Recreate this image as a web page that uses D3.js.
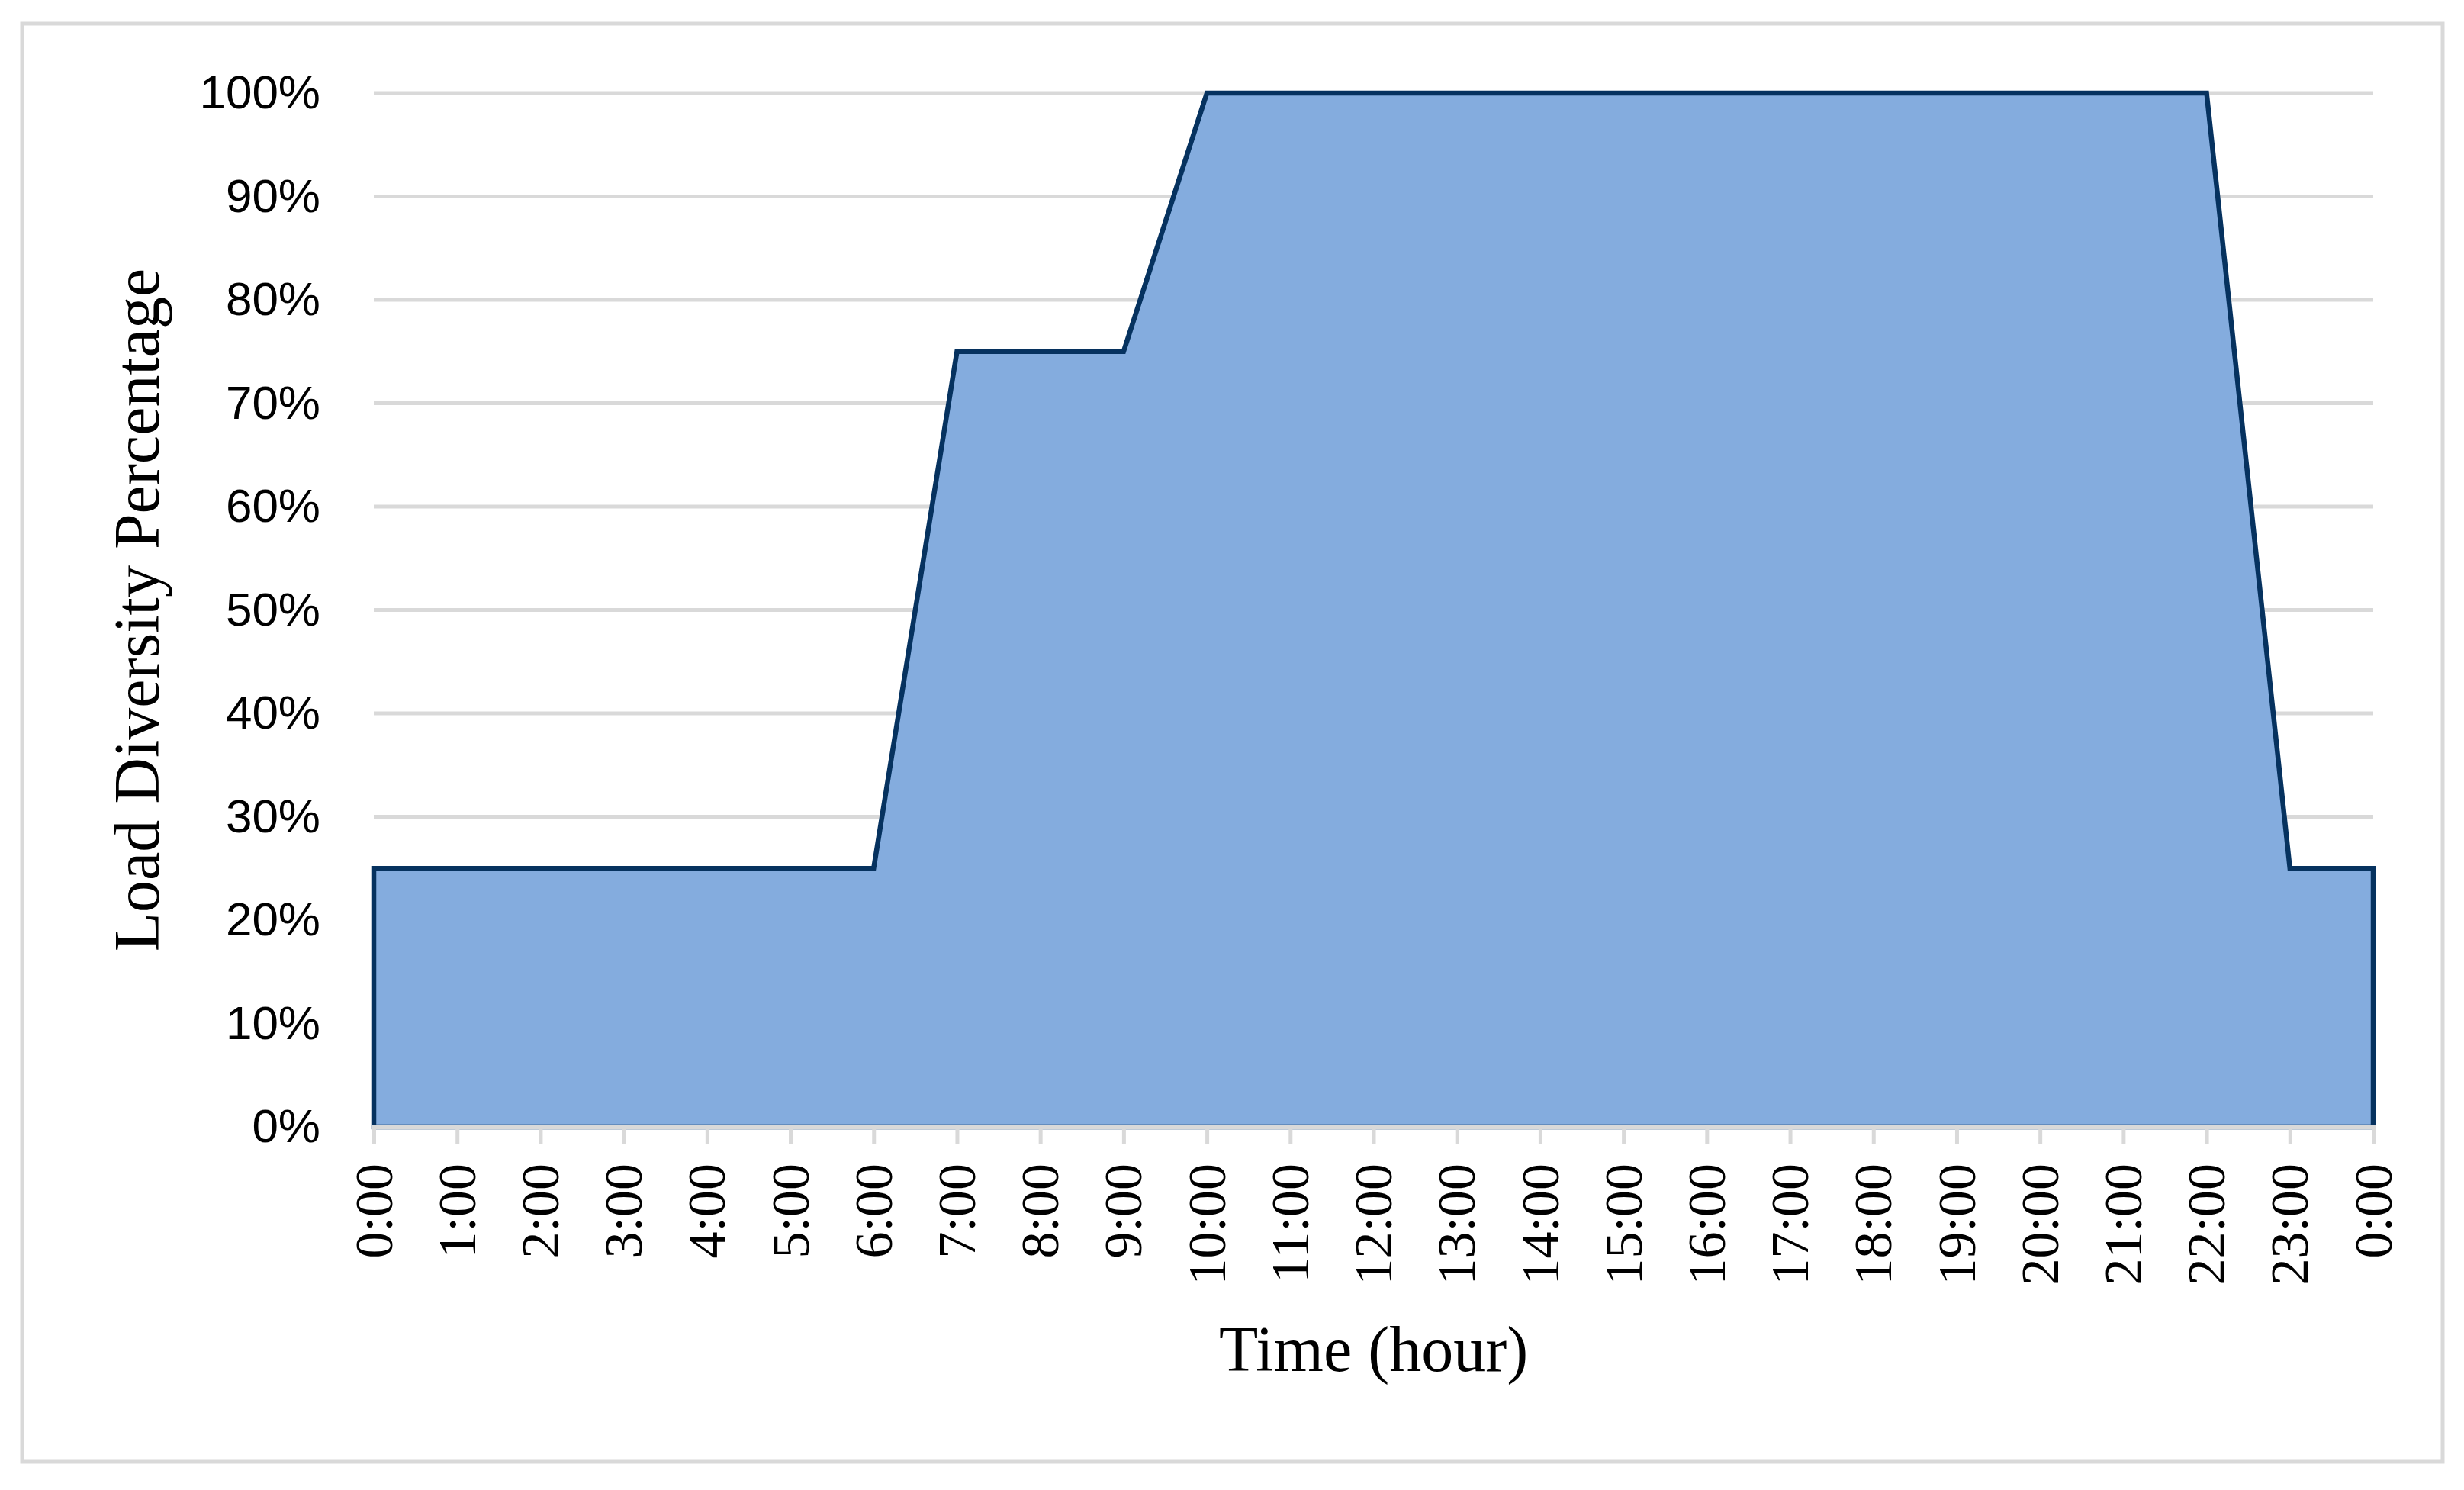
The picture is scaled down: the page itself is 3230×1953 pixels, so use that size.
<!DOCTYPE html>
<html><head><meta charset="utf-8">
<script src="https://cdn.jsdelivr.net/npm/d3@7"></script>
<style>html,body{margin:0;padding:0;background:#fff;}</style>
</head><body>
<svg id="chart" width="3230" height="1953"></svg>
<script>
const hourLabels = ["0:00","1:00","2:00","3:00","4:00","5:00","6:00","7:00","8:00","9:00","10:00","11:00","12:00","13:00","14:00","15:00","16:00","17:00","18:00","19:00","20:00","21:00","22:00","23:00","0:00"];
const loadValues = [25,25,25,25,25,25,25,75,75,75,100,100,100,100,100,100,100,100,100,100,100,100,100,25,25];
const yTicks = [0,10,20,30,40,50,60,70,80,90,100];

const svg = d3.select("#chart");
const L = 490, R = 3111, T = 122, B = 1477;

svg.append("rect").attr("x",29).attr("y",31).attr("width",3173).attr("height",1885)
  .attr("fill","#fff").attr("stroke","#d9d9d9").attr("stroke-width",5);

const x = d3.scaleLinear().domain([0, hourLabels.length-1]).range([L, R]);
const y = d3.scaleLinear().domain([0,100]).range([B, T]);

// gridlines
svg.append("g").selectAll("line").data(yTicks.filter(d=>d>0)).join("line")
  .attr("x1",L).attr("x2",R).attr("y1",d=>y(d)).attr("y2",d=>y(d))
  .attr("stroke","#d9d9d9").attr("stroke-width",5);

// area
const pts = loadValues.map((v,i)=>[i,v]);
const area = d3.area().x(d=>x(d[0])).y0(y(0)).y1(d=>y(d[1]));
svg.append("path").datum(pts).attr("d", area)
  .attr("fill","#84acde").attr("stroke","#06325f").attr("stroke-width",6.5)
  .attr("stroke-linejoin","miter");

// x axis
const xAxis = d3.axisBottom(x).tickValues(d3.range(hourLabels.length))
  .tickFormat(i=>hourLabels[i]).tickSize(22).tickPadding(0);
const gx = svg.append("g").attr("transform",`translate(0,${B})`).call(xAxis);
gx.select(".domain").attr("stroke","#d9d9d9").attr("stroke-width",5);
gx.selectAll(".tick line").attr("stroke","#d9d9d9").attr("stroke-width",5);
gx.selectAll(".tick text")
  .attr("font-family","'Liberation Serif','Times New Roman',serif")
  .attr("font-size",70).attr("fill","#000")
  .attr("text-anchor","end").attr("dy","0.33em")
  .attr("transform","translate(0,48) rotate(-90)").attr("y",0).attr("x",0);

// y axis
const yAxis = d3.axisLeft(y).tickValues(yTicks).tickFormat(d=>d+"%").tickSize(0).tickPadding(70);
const gy = svg.append("g").attr("transform",`translate(${L},0)`).call(yAxis);
gy.select(".domain").remove();
gy.selectAll(".tick text")
  .attr("font-family","'Liberation Sans',Arial,sans-serif")
  .attr("font-size",62).attr("fill","#000");

// titles
svg.append("text").attr("x",(L+R)/2).attr("y",1797).attr("text-anchor","middle")
  .attr("font-family","'Liberation Serif','Times New Roman',serif").attr("font-size",84)
  .text("Time (hour)");
svg.append("text").attr("transform",`translate(208,${(T+B)/2}) rotate(-90)`).attr("text-anchor","middle")
  .attr("font-family","'Liberation Serif','Times New Roman',serif").attr("font-size",84)
  .text("Load Diversity Percentage");
</script>
</body></html>
